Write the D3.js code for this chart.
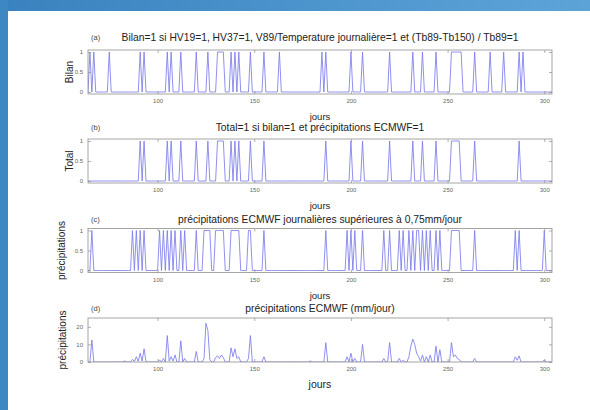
<!DOCTYPE html>
<html>
<head>
<meta charset="utf-8">
<script src="https://cdn.jsdelivr.net/npm/d3@7/dist/d3.min.js"></script>
<style>
  html, body { margin: 0; padding: 0; background: #ffffff; }
  svg { display: block; }
  text { font-family: "Liberation Sans", Arial, Helvetica, sans-serif; }
</style>
</head>
<body>
<svg id="chart" width="590" height="410"></svg>
<script>
// Day range shown on every x axis (day of year)
const dayStart = 64;
const dayEnd = 304;
const xTicks = [100, 150, 200, 250, 300];

// (a) Bilan: days where the combined criterion equals 1
const bilanDays = [65, 67, 75, 91, 93, 105, 107, 112, 120, 126,
  131, 132, 133, 134, 138, 140, 142, 148, 155, 163, 185, 187, 200, 206,
  220, 232, 237, 244, 252, 253, 254, 255, 256, 257, 264, 272, 279, 287, 289];

// (b) Total: Bilan = 1 and ECMWF precipitation = 1
const totalDays = [91, 93, 105, 107, 112, 120, 126, 131, 132, 133, 134,
  138, 140, 142, 148, 155, 187, 200, 206, 220, 232, 237, 244,
  252, 253, 254, 255, 256, 264, 287];

// (c) days with ECMWF precipitation above 0.75 mm/day
const wetDays = [66, 87, 89, 91, 93, 101, 103, 105, 107, 109, 112, 114, 120,
  124, 125, 126, 127, 130, 131, 132, 133, 134, 138, 139, 140, 141, 142,
  147, 148, 155, 187, 198, 200, 202, 206, 217, 220, 225, 227, 230, 232, 234,
  235, 237, 239, 241, 244, 246, 252, 253, 254, 255, 256, 264, 285, 287, 300];

// (d) daily ECMWF precipitation (mm/day); days not listed are dry
const rainDays =   [66, 83, 87, 88, 89, 90, 91, 92, 93, 94, 101, 103, 105, 106, 107, 108, 109,
  112, 114, 120, 124, 125, 126, 127, 130, 131, 132, 133, 134, 138, 139, 140, 141, 142,
  147, 148, 155, 179, 187, 198, 200, 202, 206, 217, 220, 225, 227, 230, 231, 232, 233, 234,
  235, 236, 237, 239, 241, 244, 246, 252, 253, 254, 255, 256, 264, 285, 286, 287, 300];
const rainValues = [12.5, 0.6, 1.5, 0.3, 3, 0.4, 5, 0.5, 7.5, 0.2, 1.2, 2, 15, 0.5, 3, 0.5, 4,
  12, 2, 6, 2, 22, 18, 1.5, 2.5, 3.5, 2, 4, 2.5, 8, 3, 7.5, 2, 3,
  2, 15, 3, 0.6, 11, 3, 5, 2, 10, 2, 11, 2, 1, 3, 9, 13, 10, 5,
  3, 0.5, 4, 3, 4, 9, 7, 11, 3, 4, 2, 1.5, 2, 3, 1, 3.5, 1.2];

const panelLetters = ["(a)", "(b)", "(c)", "(d)"];
const panelTitles = [
  "Bilan=1 si HV19=1, HV37=1, V89/Temperature journalière=1 et (Tb89-Tb150) / Tb89=1",
  "Total=1 si bilan=1 et précipitations ECMWF=1",
  "précipitations ECMWF journalières supérieures à 0,75mm/jour",
  "précipitations ECMWF (mm/jour)"
];
const yLabels = ["Bilan", "Total", "précipitations", "précipitations"];
const binaryTicks = [0, 0.5, 1];
const rainTicks = [0, 10, 20];
const xLabel = "jours";

// ---------------------------------------------------------------
const days = d3.range(dayStart, dayEnd + 1);
const asFlags = list => { const s = new Set(list); return days.map(d => ({ day: d, v: s.has(d) ? 1 : 0 })); };
const rainMap = new Map(rainDays.map((d, i) => [d, rainValues[i]]));

const series = [
  asFlags(bilanDays),
  asFlags(totalDays),
  asFlags(wetDays),
  days.map(d => ({ day: d, v: rainMap.has(d) ? rainMap.get(d) : 0 }))
];

const svg = d3.select("#chart");
const W = 590, H = 410;

// page frame
const defs = svg.append("defs");
const grad = defs.append("linearGradient").attr("id", "frameTop").attr("x1", 0).attr("x2", 1);
grad.append("stop").attr("offset", "0%").attr("stop-color", "#3a82bf");
grad.append("stop").attr("offset", "100%").attr("stop-color", "#5ca4d8");
svg.append("rect").attr("width", W).attr("height", H).attr("fill", "#ffffff");
svg.append("rect").attr("x", 0).attr("y", 0).attr("width", W).attr("height", 11).attr("fill", "url(#frameTop)");
svg.append("rect").attr("x", 0).attr("y", 0).attr("width", 8).attr("height", H).attr("fill", "#3d87c2");

const left = 88, right = 552, plotH = 44;
const tops = [50, 139, 228.5, 318];
const titleY = [37, 127, 219, 308];
const yLabelX = [69, 69, 61, 62];
const yDomains = [[-0.05, 1.05], [-0.05, 1.05], [-0.05, 1.05], [0, 25]];
const yTickSets = [binaryTicks, binaryTicks, binaryTicks, rainTicks];

const x = d3.scaleLinear().domain([dayStart, dayEnd]).range([left, right]);
const axisColor = "#8f8f8f";
const labelColor = "#666";
const lineColor = "#7c7cec";

series.forEach((data, i) => {
  const top = tops[i], bottom = top + plotH;
  const y = d3.scaleLinear().domain(yDomains[i]).range([bottom, top]);
  const g = svg.append("g");

  defs.append("clipPath").attr("id", "clip" + i)
    .append("rect").attr("x", left).attr("y", top).attr("width", right - left).attr("height", plotH);

  // data line
  g.append("path")
    .datum(data)
    .attr("clip-path", "url(#clip" + i + ")")
    .attr("fill", "none")
    .attr("stroke", lineColor)
    .attr("stroke-width", 0.85)
    .attr("stroke-linejoin", "round")
    .attr("d", d3.line().x(d => x(d.day)).y(d => y(d.v)));

  // axes with inward ticks on all four sides
  g.append("g").attr("transform", `translate(0,${bottom})`)
    .call(d3.axisBottom(x).tickValues(xTicks).tickSizeInner(-3).tickSizeOuter(0).tickPadding(5).tickFormat(d3.format("")));
  g.append("g").attr("transform", `translate(0,${top})`)
    .call(d3.axisTop(x).tickValues(xTicks).tickSizeInner(-3).tickSizeOuter(0).tickFormat(""));
  g.append("g").attr("transform", `translate(${left},0)`)
    .call(d3.axisLeft(y).tickValues(yTickSets[i]).tickSizeInner(-3).tickSizeOuter(0).tickPadding(5).tickFormat(d3.format("")));
  g.append("g").attr("transform", `translate(${right},0)`)
    .call(d3.axisRight(y).tickValues(yTickSets[i]).tickSizeInner(-3).tickSizeOuter(0).tickFormat(""));
  g.selectAll(".domain").remove();
  g.selectAll(".tick line").attr("stroke", axisColor).attr("stroke-width", 0.7);
  g.selectAll(".tick text").attr("fill", labelColor).style("font-size", "6px")
    .style("font-family", '"Liberation Sans", Arial, sans-serif');

  g.append("rect").attr("x", left).attr("y", top).attr("width", right - left).attr("height", plotH)
    .attr("fill", "none").attr("stroke", axisColor).attr("stroke-width", 0.8);

  // titles
  g.append("text").attr("x", 91).attr("y", titleY[i]).attr("dy", "0.35em")
    .attr("fill", "#444").style("font-size", "7.5px").text(panelLetters[i]);
  g.append("text").attr("x", (left + right) / 2).attr("y", titleY[i]).attr("dy", "0.35em")
    .attr("text-anchor", "middle").attr("fill", "#222").style("font-size", "10.3px").text(panelTitles[i]);

  // y label
  g.append("text")
    .attr("transform", `translate(${yLabelX[i]},${top + plotH / 2}) rotate(-90)`)
    .attr("text-anchor", "middle").attr("dy", "0.35em")
    .attr("fill", "#222").style("font-size", "10px").text(yLabels[i]);

  // x label
  g.append("text").attr("x", (left + right) / 2).attr("y", bottom + (i === 3 ? 22 : 23)).attr("dy", "0.35em")
    .attr("text-anchor", "middle").attr("fill", "#222").style("font-size", i === 3 ? "10.5px" : "9.5px").text(xLabel);
});
</script>
</body>
</html>
